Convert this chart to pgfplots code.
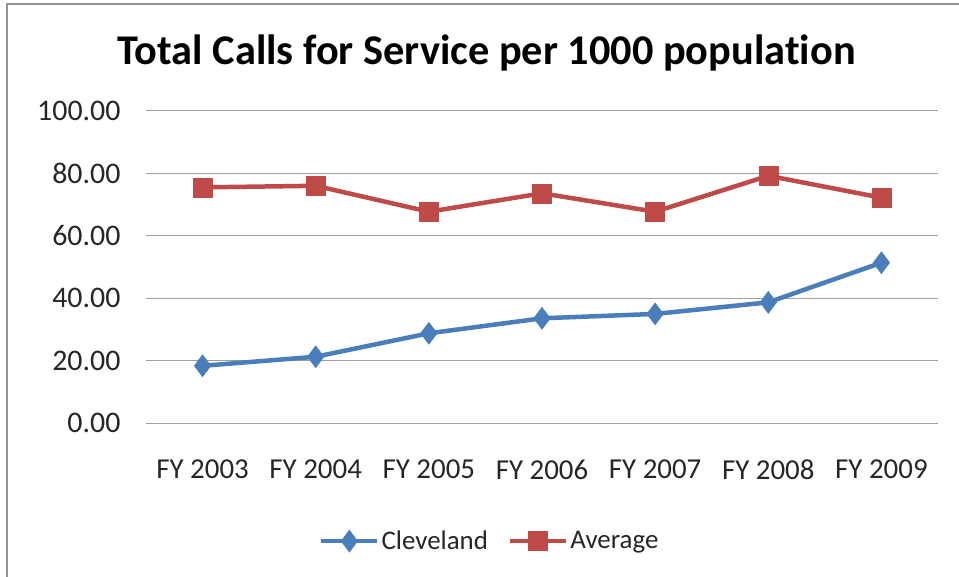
\documentclass[border=0pt]{standalone}
\usepackage{pgfplots}
\pgfplotsset{compat=1.18}
\usepackage{fontspec}
\setmainfont[Ligatures=NoCommon]{Carlito}
\definecolor{cblue}{HTML}{4A7EBB}
\definecolor{cred}{HTML}{BE4B48}
\definecolor{gridc}{HTML}{A0A0A0}
\begin{document}
\begin{tikzpicture}
\path[use as bounding box] (0,0) rectangle (959bp,577bp);
\draw[color=gray!85, line width=2.5bp] (7bp,0) -- (7bp,573bp) -- (959bp,573bp);
\begin{axis}[
  at={(146bp,153.7bp)}, anchor=south west,
  scale only axis, width=792bp, height=312.5bp,
  xmin=-0.5, xmax=6.5, ymin=0, ymax=100,
  xtick={0,1,2,3,4,5,6},
  xticklabels={FY 2003,FY 2004,FY 2005,FY 2006,FY 2007,FY 2008,FY 2009},
  ytick={0,20,40,60,80,100},
  yticklabel={\pgfmathprintnumber[fixed,fixed zerofill,precision=2]{\tick}},
  /pgf/number format/assume math mode=true,
  axis line style={draw=none},
  major tick length=0pt,
  ymajorgrids, grid style={gridc, line width=1.2bp},
  tick label style={text=black!85},
  yticklabel style={font=\fontsize{30}{30}\selectfont, xshift=-22bp},
  xticklabel style={font=\fontsize{29}{29}\selectfont, yshift=-33bp},
  title={\bfseries Total Calls for Service per 1000 population},
  title style={font=\fontsize{42.5}{42.5}\selectfont, at={(rel axis cs:0.43,1.130)}, anchor=base},
  legend columns=2,
  legend style={draw=none, at={(rel axis cs:0.434,-0.377)}, anchor=center,
    font=\fontsize{27}{27}\selectfont, text=black!85,
    /tikz/every even column/.append style={column sep=18bp}},
  legend image code/.code={
    \draw[#1] (0bp,0bp) -- (28bp,0bp) plot coordinates {(28bp,0bp)} -- (56bp,0bp);
  },
]
\addplot[cblue, line width=4.5bp, mark=diamond*, mark size=11bp, mark options={line width=0.5bp}]
  coordinates {(0,18.4) (1,21.3) (2,28.8) (3,33.6) (4,35.0) (5,38.7) (6,51.4)};
\addlegendentry{Cleveland}
\addplot[cred, line width=4.5bp, mark=square*, mark size=9.5bp, mark options={line width=0.5bp}]
  coordinates {(0,75.5) (1,76.0) (2,67.7) (3,73.6) (4,67.7) (5,79.2) (6,72.2)};
\addlegendentry{Average}
\end{axis}
\end{tikzpicture}
\end{document}
